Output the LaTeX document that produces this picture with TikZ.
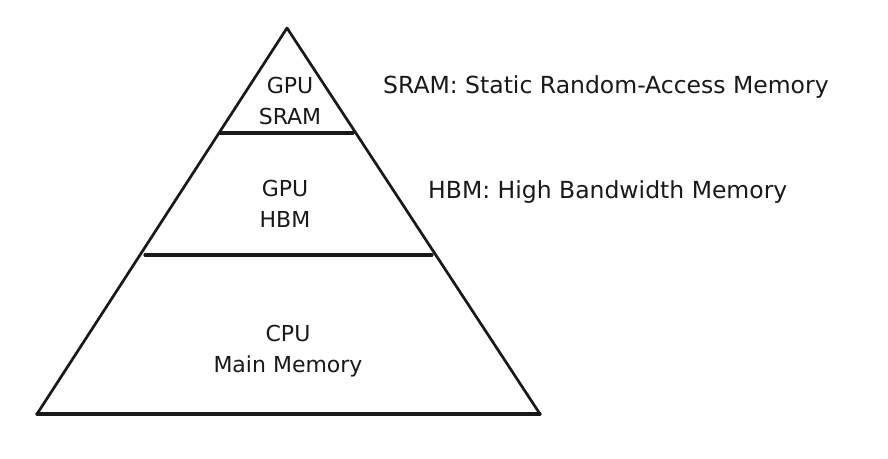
\documentclass[tikz,border=0pt]{standalone}
\usepackage{fontspec}
\setmainfont{DejaVu Sans}
\begin{document}
\begin{tikzpicture}[x=1pt,y=-1pt,
  edge/.style={line width=2.7pt,line cap=round,line join=round,color=black!90},
  lbl/.style={font=\fontsize{22}{31}\selectfont,align=center,inner sep=0pt,text=black!90},
  side/.style={font=\fontsize{23.5}{26}\selectfont,inner sep=0pt,anchor=base west,text=black!90}]
\useasboundingbox (0,0) rectangle (888,458);
\coordinate (apex) at (287,28);
\coordinate (bl) at (37,414);
\coordinate (br) at (540,414);
\coordinate (s1) at (220,133);
\coordinate (s2) at (353,133);
\coordinate (h1) at (145,255);
\coordinate (h2) at (432,255);
\draw[edge] (bl) -- (apex) -- (br) -- cycle;
\draw[edge,line width=3.2pt] (bl) -- (br);
\draw[edge,line width=3.2pt] (s1) -- (s2);
\draw[edge,line width=3.2pt] (h1) -- (h2);
\node[lbl] (sram) at (290,101) {GPU\\SRAM};
\node[lbl] (hbm) at (285,204) {GPU\\HBM};
\node[lbl] (cpu) at (288,351) {CPU\\Main Memory};
\node[side] (sramdef) at (383,93) {SRAM: Static Random-Access Memory};
\node[side] (hbmdef) at (428,198) {HBM: High Bandwidth Memory};
\end{tikzpicture}
\end{document}
